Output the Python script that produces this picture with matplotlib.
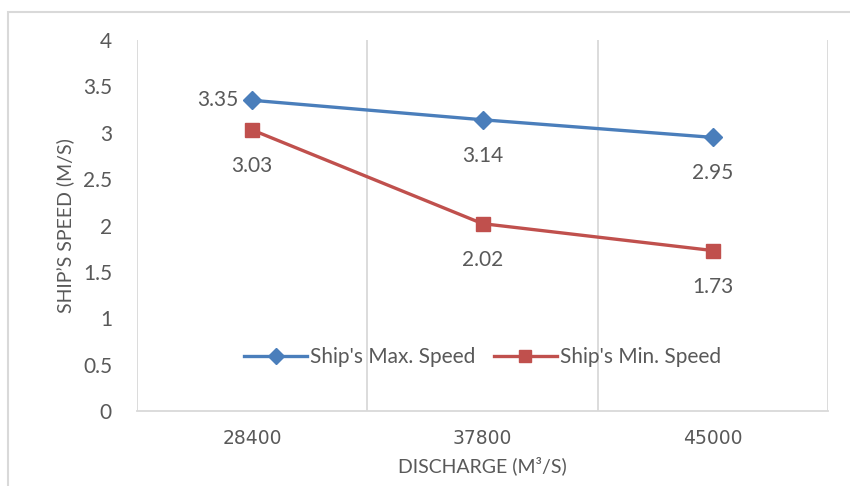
import matplotlib.pyplot as plt
from matplotlib.patches import Rectangle

discharge = ["28400", "37800", "45000"]
max_speed = [3.35, 3.14, 2.95]
min_speed = [3.03, 2.02, 1.73]

plt.rcParams['font.family'] = ['Lato', 'DejaVu Sans']
grey = '#595959'
blue = '#4A7EBB'
red = '#C0504D'

fig = plt.figure(figsize=(8.5, 4.86), dpi=100)
ax = fig.add_axes([137 / 850, 1 - 411 / 486, (828 - 137) / 850, (411 - 40) / 486])

# outer chart border
fig.patches.append(Rectangle((8 / 850, -0.1), 1.1, 1 - 12 / 486 + 0.1,
                             transform=fig.transFigure, fill=False,
                             edgecolor='#d9d9d9', linewidth=1.5))

x = range(1, len(discharge) + 1)
ax.plot(x, max_speed, color=blue, linewidth=2.4, marker='D', markersize=9,
        label="Ship's Max. Speed", zorder=3)
ax.plot(x, min_speed, color=red, linewidth=2.4, marker='s', markersize=10,
        label="Ship's Min. Speed", zorder=3)

# data labels
for i, v in enumerate(max_speed):
    if i == 0:
        ax.annotate(f'{v:.2f}', (x[i], v), xytext=(-10, 0), textcoords='offset points',
                    ha='right', va='center', fontsize=15, color=grey)
    else:
        ax.annotate(f'{v:.2f}', (x[i], v), xytext=(0, -26), textcoords='offset points',
                    ha='center', va='center', fontsize=15, color=grey)
for i, v in enumerate(min_speed):
    ax.annotate(f'{v:.2f}', (x[i], v), xytext=(0, -26), textcoords='offset points',
                ha='center', va='center', fontsize=15, color=grey)

ax.set_xlim(0.5, 3.5)
ax.set_ylim(0, 4)
ax.set_yticks([0, 0.5, 1, 1.5, 2, 2.5, 3, 3.5, 4])
ax.set_yticklabels(['0', '0.5', '1', '1.5', '2', '2.5', '3', '3.5', '4'])
ax.set_xticks(list(x))
ax.set_xticklabels(discharge)
ax.set_xticks([0.5, 1.5, 2.5, 3.5], minor=True)
ax.grid(which='minor', axis='x', color='#d9d9d9', linewidth=1.3)
ax.tick_params(axis='both', which='both', length=0)
ax.tick_params(axis='y', labelsize=15, labelcolor=grey, pad=18)
ax.tick_params(axis='x', labelsize=13.5, labelcolor=grey, pad=13)
for lab in ax.get_xticklabels():
    lab.set_fontfamily(['DejaVu Sans'])

for s in ['top', 'right', 'left']:
    ax.spines[s].set_visible(False)
ax.spines['bottom'].set_color('#d9d9d9')
ax.spines['bottom'].set_linewidth(1.3)

ax.set_ylabel("SHIP\u2019S SPEED (M/S)", fontsize=14, color=grey, labelpad=6)
ax.set_xlabel("DISCHARGE (M\u00b3/S)", fontsize=14, color=grey, labelpad=6)

ax.legend(loc='center', bbox_to_anchor=(0.5, 0.145), ncol=2, frameon=False,
          fontsize=15, labelcolor=grey, handlelength=3.0, columnspacing=0.9,
          handletextpad=0.15, markerscale=0.85)

fig.savefig('out.png', dpi=100)
